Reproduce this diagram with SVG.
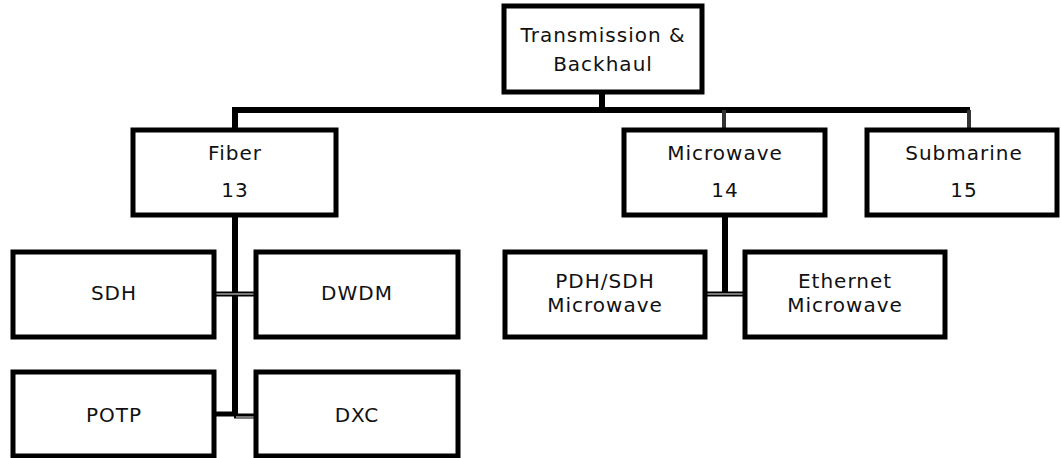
<svg xmlns="http://www.w3.org/2000/svg" width="1061" height="458" viewBox="0 0 1061 458">
<style>
.box{fill:#fff;stroke:#000;stroke-width:5}
.t{font-family:"DejaVu Sans","Liberation Sans",sans-serif;font-size:20px;fill:#111;text-anchor:middle;letter-spacing:1px}
.thick{stroke:#000;stroke-width:6;fill:none}
.thin{stroke:#333;stroke-width:4;fill:none}
.link{stroke:#000;stroke-width:5;fill:none}
.linkc{stroke:#777;stroke-width:2;fill:none}
</style>
<rect width="1061" height="458" fill="#fff"/>
<g id="connectors">
<line class="thick" x1="602" y1="92" x2="602" y2="110"/>
<polyline class="thick" points="235,130 235,110 970,110"/>
<line class="thin" x1="724" y1="110" x2="724" y2="130"/>
<line class="thin" x1="969" y1="110" x2="969" y2="130"/>
<line class="thick" x1="235" y1="215" x2="235" y2="416"/>
<line class="thick" x1="725" y1="215" x2="725" y2="294"/>
<line class="link" x1="214" y1="294" x2="256" y2="294"/>
<line class="linkc" x1="216" y1="294" x2="254" y2="294"/>
<line class="link" x1="705" y1="294" x2="745" y2="294"/>
<line class="linkc" x1="707" y1="294" x2="743" y2="294"/>
<line class="link" x1="214" y1="414" x2="236" y2="414"/>
<line class="link" x1="234" y1="416" x2="256" y2="416"/>
<line class="linkc" x1="236" y1="417" x2="254" y2="417"/>
</g>
<g id="n-root"><rect class="box" x="504" y="6" width="198" height="86"/><text class="t" x="603" y="42">Transmission &amp;</text><text class="t" x="603" y="71">Backhaul</text></g>
<g id="n-fiber"><rect class="box" x="133" y="130" width="203" height="85"/><text class="t" x="235" y="160">Fiber</text><text class="t" x="235" y="197">13</text></g>
<g id="n-microwave"><rect class="box" x="624" y="130" width="201" height="85"/><text class="t" x="725" y="160">Microwave</text><text class="t" x="725" y="197">14</text></g>
<g id="n-submarine"><rect class="box" x="867" y="130" width="190" height="85"/><text class="t" x="964" y="160">Submarine</text><text class="t" x="964" y="197">15</text></g>
<g id="n-sdh"><rect class="box" x="13" y="252" width="201" height="85"/><text class="t" x="114" y="300">SDH</text></g>
<g id="n-dwdm"><rect class="box" x="256" y="252" width="202" height="85"/><text class="t" x="357" y="300">DWDM</text></g>
<g id="n-potp"><rect class="box" x="13" y="372" width="201" height="84"/><text class="t" x="114" y="422">POTP</text></g>
<g id="n-dxc"><rect class="box" x="256" y="372" width="202" height="84"/><text class="t" x="357" y="422">DXC</text></g>
<g id="n-pdh"><rect class="box" x="505" y="252" width="200" height="85"/><text class="t" x="605" y="288">PDH/SDH</text><text class="t" x="605" y="312">Microwave</text></g>
<g id="n-eth"><rect class="box" x="745" y="252" width="200" height="85"/><text class="t" x="845" y="288">Ethernet</text><text class="t" x="845" y="312">Microwave</text></g>
</svg>
